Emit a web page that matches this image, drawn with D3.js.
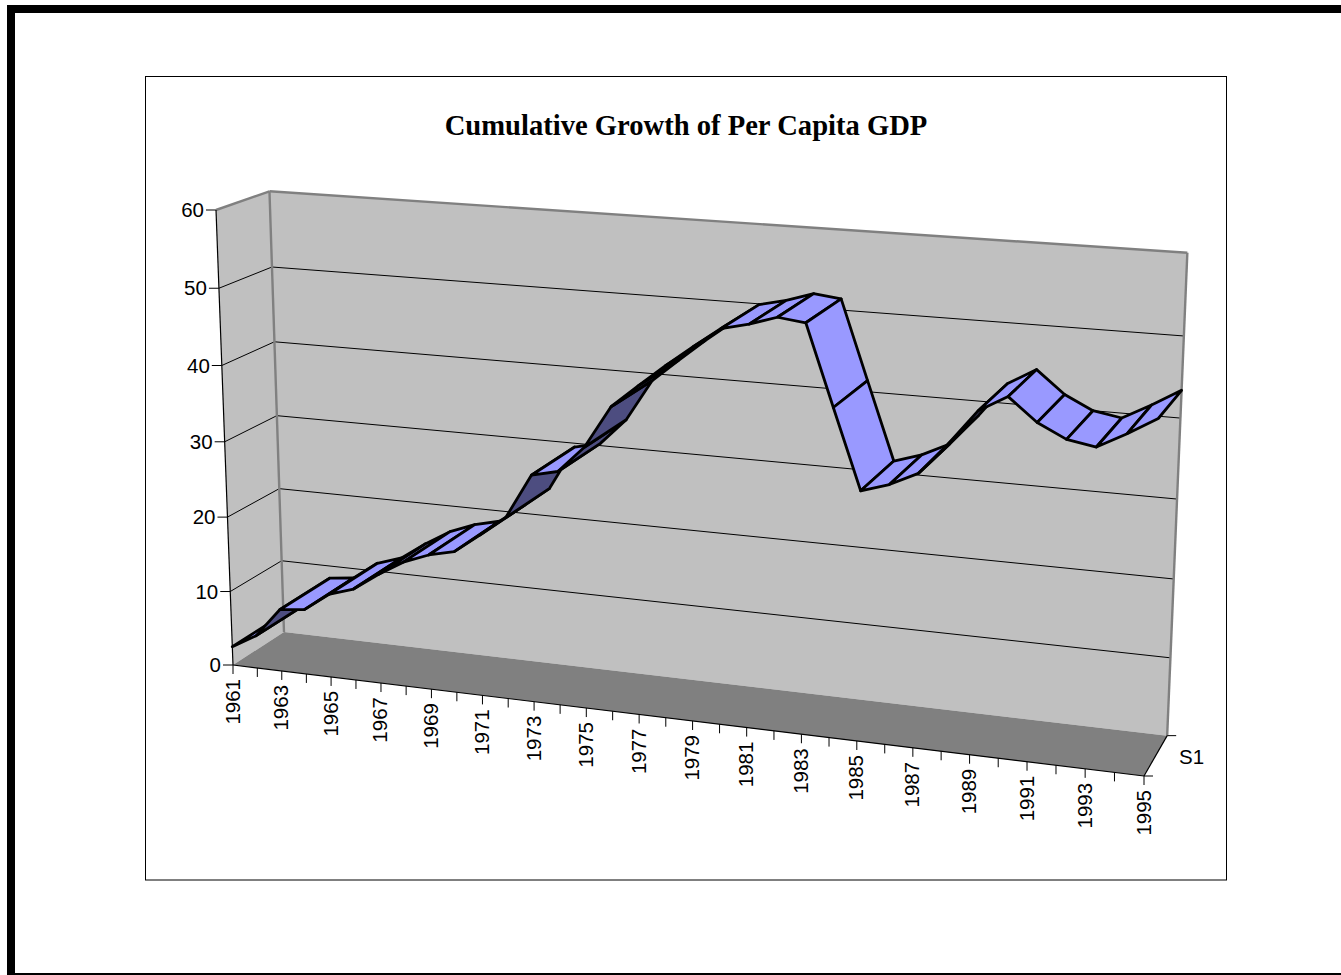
<!DOCTYPE html>
<html>
<head>
<meta charset="utf-8">
<title>Cumulative Growth of Per Capita GDP</title>
<style>
  html, body { margin: 0; padding: 0; background: #fff; }
  svg { display: block; }
  .lbl { font-family: "Liberation Sans", Arial, sans-serif; font-size: 20.5px; fill: #000; }
  .title { font-family: "Liberation Serif", "Times New Roman", serif; font-size: 28.6px; font-weight: bold; fill: #000; }
</style>
</head>
<body>
<svg id="chart" width="1341" height="975"></svg>
<script src="https://cdn.jsdelivr.net/npm/d3@7"></script>
<script>
var chartTitle = "Cumulative Growth of Per Capita GDP";
var seriesName = "S1";
var years = [1961, 1962, 1963, 1964, 1965, 1966, 1967, 1968, 1969, 1970, 1971, 1972,
             1973, 1974, 1975, 1976, 1977, 1978, 1979, 1980, 1981, 1982, 1983, 1984,
             1985, 1986, 1987, 1988, 1989, 1990, 1991, 1992, 1993, 1994, 1995];
var growth = [2.5, 4.4, 8.3, 8.7, 11.1, 12.2, 14.5, 16.5, 17.8, 18.6, 21.1, 23.7,
              29.5, 30.3, 33.7, 39.1, 42.0, 44.8, 47.4, 49.9, 50.7, 51.8, 51.4, 41.4,
              31.5, 32.6, 34.3, 38.2, 42.5, 44.5, 41.7, 40.0, 39.4, 41.3, 43.4];
var valueTicks = [0, 10, 20, 30, 40, 50, 60];

var svg = d3.select("#chart");

// page frame
svg.append("rect").attr("x", 7).attr("y", 5).attr("width", 1334).attr("height", 8).attr("fill", "#000");
svg.append("rect").attr("x", 7).attr("y", 5).attr("width", 8).attr("height", 970).attr("fill", "#000");
svg.append("rect").attr("x", 7).attr("y", 973).attr("width", 1334).attr("height", 2).attr("fill", "#000");

// chart area
svg.append("rect").attr("x", 145.5).attr("y", 76.5).attr("width", 1081).attr("height", 803.5)
  .attr("fill", "#fff").attr("stroke", "#000");

svg.append("text").attr("class", "title").attr("x", 686).attr("y", 135)
  .attr("text-anchor", "middle").text(chartTitle);

// scales go to the unit cube, project() then takes the cube to the screen
var xs = d3.scalePoint().domain(years).range([0, 1]);
var ys = d3.scaleLinear().domain([0, 60]).range([0, 1]);

// seen corners of the cube and the perspective weight of each axis
var o = [233, 665], ex = [1144, 776], ey = [216, 210], ez = [284, 632];
var wx = 0.905, wy = 0.963, wz = 1.034;

function project(t, v, d) {
  var w = 1 + t * (wx - 1) + v * (wy - 1) + d * (wz - 1);
  return [0, 1].map(function(k) {
    return (o[k] + t * (wx * ex[k] - o[k]) + v * (wy * ey[k] - o[k]) + d * (wz * ez[k] - o[k])) / w;
  });
}

var line = d3.line();
var poly = function(pts) { return line(pts) + "Z"; };

function seg(a, b, stroke, width) {
  svg.append("path").attr("d", line([a, b])).attr("fill", "none")
    .attr("stroke", stroke).attr("stroke-width", width);
}

// walls and floor
svg.append("path").attr("fill", "#C0C0C0")
  .attr("d", poly([project(0,0,0), project(0,0,1), project(0,1,1), project(0,1,0)]));
svg.append("path").attr("fill", "#C0C0C0")
  .attr("d", poly([project(0,0,1), project(1,0,1), project(1,1,1), project(0,1,1)]));
svg.append("path").attr("fill", "#808080")
  .attr("d", poly([project(0,0,0), project(1,0,0), project(1,0,1), project(0,0,1)]));

// gridlines, value ticks and labels
valueTicks.forEach(function(val) {
  var v = ys(val);
  var p = project(0, v, 0);
  if (val > 0 && val < 60) {
    seg(p, project(0, v, 1), "#000", 1);
    seg(project(0, v, 1), project(1, v, 1), "#000", 1);
  }
  seg([p[0] - 10, p[1]], p, "#000", 1);
  svg.append("text").attr("class", "lbl").attr("x", p[0] - 12).attr("y", p[1] + 7)
    .attr("text-anchor", "end").text(val);
});

// wall edges
seg(project(0,0,1), project(0,1,1), "#808080", 2.4);
seg(project(0,1,0), project(0,1,1), "#808080", 2.4);
seg(project(0,1,1), project(1,1,1), "#808080", 2.4);
seg(project(1,0,1), project(1,1,1), "#808080", 2.4);

// axes
seg(project(0,0,0), project(0,1,0), "#000", 1.2);
seg(project(0,0,0), project(1,0,0), "#000", 1.2);
seg(project(1,0,0), project(1,0,1), "#000", 1.2);

years.forEach(function(yr, i) {
  var p = project(xs(yr), 0, 0);
  seg(p, [p[0], p[1] + 9], "#000", 1);
  if (i % 2 === 0) {
    svg.append("text").attr("class", "lbl")
      .attr("transform", "translate(" + (p[0] + 6.5) + "," + (p[1] + 14) + ") rotate(-90)")
      .attr("text-anchor", "end").text(yr);
  }
});

// depth axis
var s0 = project(1,0,0), s1 = project(1,0,1);
seg(s0, [s0[0] + 9, s0[1]], "#000", 1);
seg(s1, [s1[0] + 9, s1[1]], "#000", 1);
svg.append("text").attr("class", "lbl").attr("x", 1179).attr("y", 764).text(seriesName);

// ribbon, one panel per year left to right, the underside is darker
years.slice(0, -1).forEach(function(yr, i) {
  var t0 = xs(yr), t1 = xs(years[i + 1]);
  var v0 = ys(growth[i]), v1 = ys(growth[i + 1]);
  var pts = [project(t0, v0, 0), project(t1, v1, 0), project(t1, v1, 1), project(t0, v0, 1)];
  svg.append("path").attr("d", poly(pts))
    .attr("fill", d3.polygonArea(pts) > 0 ? "#9999FF" : "#4D4D80")
    .attr("stroke", "#000").attr("stroke-width", 2.8).attr("stroke-linejoin", "round");
});
</script>
</body>
</html>
